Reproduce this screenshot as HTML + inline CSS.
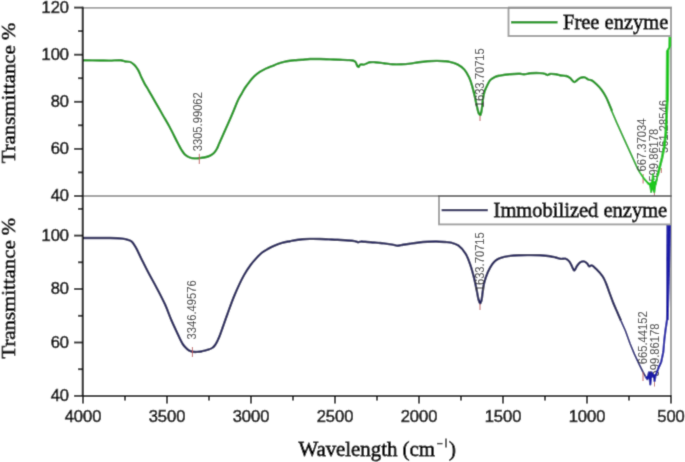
<!DOCTYPE html>
<html><head><meta charset="utf-8"><style>
html,body{margin:0;padding:0;background:#fff;width:685px;height:462px;overflow:hidden}
svg{display:block}
.tl{font-family:"Liberation Sans",sans-serif;font-size:16.5px;fill:#111;stroke:#111;stroke-width:0.6px}
.pk{font-family:"Liberation Sans",sans-serif;font-size:12.3px;fill:#3a3a3a;stroke:#3a3a3a;stroke-width:0.1px}
.lg{font-family:"Liberation Serif",serif;font-size:20.5px;fill:#000;stroke:#000;stroke-width:0.8px}
.ti{font-family:"Liberation Serif",serif;font-size:20.8px;fill:#000;stroke:#000;stroke-width:0.8px}
</style></head><body>
<svg width="685" height="462" viewBox="0 0 685 462">
<defs><filter id="bl" x="0" y="0" width="685" height="462" filterUnits="userSpaceOnUse"><feConvolveMatrix order="3" kernelMatrix="0.0367 0.1915 0.0367 0.1915 1 0.1915 0.0367 0.1915 0.0367" divisor="1.9127" edgeMode="none"/></filter></defs>
<g filter="url(#bl)"><rect width="685" height="462" fill="#fff"/>
<line x1="83" y1="7.85" x2="671" y2="7.85" stroke="#a0a0a0" stroke-width="1.9"/>
<line x1="671" y1="7.5" x2="671" y2="396" stroke="#a0a0a0" stroke-width="1.9"/>
<line x1="83" y1="196" x2="671" y2="196" stroke="#a0a0a0" stroke-width="1.9"/>
<path d="M83.00,60.30 C83.00,60.30 95.08,60.45 100.00,60.50 C103.77,60.54 106.60,60.63 110.00,60.60 C113.53,60.57 118.01,59.97 120.80,60.30 C122.61,60.52 123.66,61.22 125.20,61.50 C126.85,61.80 128.86,61.41 130.40,62.00 C131.88,62.57 133.08,63.69 134.30,64.90 C135.71,66.30 137.06,68.15 138.20,70.10 C139.46,72.24 140.29,74.98 141.40,77.30 C142.46,79.54 143.51,81.65 144.70,83.80 C145.91,85.99 147.22,87.94 148.60,90.30 C150.22,93.07 152.06,96.38 153.80,99.40 C155.53,102.41 157.39,105.57 159.00,108.40 C160.43,110.90 161.50,112.86 163.00,115.50 C164.90,118.83 167.24,122.63 169.50,126.80 C172.20,131.79 175.76,139.26 178.00,143.50 C179.40,146.15 180.26,147.97 181.50,149.90 C182.61,151.63 183.61,153.32 185.00,154.60 C186.35,155.84 188.07,156.87 189.70,157.50 C191.21,158.09 192.79,158.30 194.40,158.40 C196.06,158.51 197.86,158.26 199.50,158.10 C201.05,157.95 202.55,157.78 204.00,157.50 C205.38,157.24 206.69,156.98 208.00,156.50 C209.36,156.00 210.81,155.32 212.00,154.50 C213.14,153.71 214.13,152.74 215.00,151.70 C215.86,150.67 216.57,149.50 217.20,148.30 C217.84,147.07 218.21,145.77 218.80,144.40 C219.46,142.85 220.15,141.40 221.00,139.50 C222.18,136.85 223.95,132.80 225.20,130.00 C226.19,127.77 226.86,126.35 227.90,124.00 C229.36,120.69 231.40,116.01 233.10,112.00 C234.80,108.01 236.49,103.31 238.10,100.00 C239.30,97.55 240.45,95.83 241.60,93.80 C242.71,91.83 243.65,89.92 244.90,88.00 C246.23,85.95 247.82,83.87 249.40,81.90 C250.98,79.93 252.60,77.90 254.40,76.20 C256.14,74.55 258.05,73.09 260.00,71.80 C261.92,70.53 263.97,69.46 266.00,68.50 C267.97,67.57 270.00,66.90 272.00,66.10 C274.00,65.30 275.98,64.40 278.00,63.70 C279.98,63.01 281.99,62.39 284.00,61.90 C285.99,61.42 287.99,61.08 290.00,60.80 C291.99,60.52 294.00,60.38 296.00,60.20 C298.00,60.02 299.86,59.88 302.00,59.70 C304.48,59.49 307.18,59.12 310.00,59.00 C313.14,58.86 316.67,58.93 320.00,59.00 C323.33,59.07 326.67,59.27 330.00,59.40 C333.33,59.53 336.89,59.68 340.00,59.80 C342.71,59.91 345.31,59.97 347.60,60.10 C349.50,60.21 351.39,60.07 352.80,60.50 C353.89,60.83 354.75,61.20 355.50,62.00 C356.45,63.02 356.89,65.83 357.60,66.50 C357.93,66.81 358.26,67.00 358.60,66.90 C359.16,66.74 359.49,64.90 360.30,64.50 C361.18,64.06 362.51,64.82 363.80,64.60 C365.54,64.30 367.75,62.69 369.70,62.30 C371.48,61.95 373.01,62.11 375.00,62.20 C377.57,62.32 380.88,62.85 383.80,63.20 C386.71,63.55 389.59,64.12 392.50,64.30 C395.42,64.48 398.38,64.42 401.30,64.30 C404.21,64.18 407.10,63.95 410.00,63.60 C412.93,63.25 415.87,62.58 418.80,62.20 C421.70,61.82 424.59,61.52 427.50,61.30 C430.42,61.08 433.37,60.92 436.30,60.90 C439.21,60.88 442.55,61.00 445.00,61.20 C446.81,61.35 447.94,61.39 449.70,61.80 C452.08,62.35 455.43,63.28 457.90,64.60 C460.28,65.87 462.47,67.45 464.30,69.50 C466.29,71.72 467.85,74.70 469.20,77.60 C470.61,80.62 471.55,84.04 472.50,87.30 C473.45,90.54 474.15,93.84 474.90,97.10 C475.65,100.34 476.26,103.84 477.00,106.80 C477.64,109.33 478.16,112.49 479.00,113.80 C479.42,114.46 480.00,115.13 480.40,115.00 C481.16,114.75 481.49,110.82 481.90,108.40 C482.39,105.49 482.50,101.69 483.00,98.70 C483.43,96.08 483.87,93.65 484.60,91.40 C485.27,89.35 486.16,87.58 487.10,85.70 C488.06,83.78 488.89,81.50 490.30,80.00 C491.63,78.58 493.51,77.54 495.20,76.80 C496.75,76.12 498.10,75.97 500.00,75.60 C502.72,75.07 506.66,74.50 510.00,74.20 C513.33,73.90 517.33,73.71 520.00,73.80 C521.80,73.86 522.93,74.35 524.50,74.30 C526.25,74.24 527.88,73.51 530.00,73.30 C532.83,73.02 537.24,72.94 540.00,73.10 C541.96,73.22 543.65,73.37 545.00,73.80 C546.01,74.12 546.66,75.07 547.50,75.10 C548.33,75.13 548.97,74.19 550.00,74.00 C551.51,73.72 553.93,74.04 555.80,74.30 C557.59,74.55 559.25,75.22 561.00,75.50 C562.75,75.78 564.75,75.55 566.30,76.00 C567.63,76.39 568.63,76.96 569.80,77.80 C571.26,78.85 572.88,81.97 574.20,82.10 C575.14,82.19 575.88,81.04 576.80,80.40 C577.89,79.64 578.99,78.30 580.30,77.80 C581.62,77.30 583.36,77.09 584.70,77.40 C585.99,77.69 587.00,79.00 588.20,79.50 C589.33,79.97 590.53,79.82 591.70,80.40 C593.16,81.13 594.62,82.53 596.10,83.90 C597.82,85.49 599.70,87.41 601.30,89.50 C603.02,91.75 604.63,94.41 606.00,97.00 C607.36,99.58 608.44,102.52 609.50,105.00 C610.41,107.14 612.00,111.00 612.00,111.00" fill="none" stroke="#229a22" stroke-width="2.4" stroke-linejoin="round"/>
<polyline points="611.5,110.5 616.7,122.7 623.8,138.3 631.0,154.2 637.7,168.8 640.0,172.8" fill="none" stroke="#2aaa2a" stroke-width="1.9" stroke-linejoin="round"/>
<path d="M83.00,238.00 C83.00,238.00 97.40,237.89 104.20,238.00 C110.50,238.10 117.45,237.78 122.40,238.60 C125.94,239.18 129.06,239.73 131.30,241.30 C133.25,242.66 134.10,244.63 135.50,246.90 C137.37,249.94 139.12,254.23 141.10,258.20 C143.32,262.64 145.69,267.52 148.20,272.30 C150.84,277.34 153.84,282.42 156.60,287.70 C159.47,293.18 162.59,299.05 165.10,304.60 C167.45,309.80 169.24,315.21 171.30,320.00 C173.14,324.27 174.91,328.01 176.80,332.00 C178.71,336.01 180.82,341.10 182.70,344.00 C183.90,345.85 185.15,347.10 186.20,348.20 C186.96,348.99 187.56,349.59 188.30,350.10 C188.99,350.57 189.75,350.91 190.50,351.20 C191.22,351.48 191.84,351.67 192.70,351.80 C193.89,351.97 195.57,351.95 197.00,351.90 C198.43,351.85 199.98,351.73 201.30,351.50 C202.45,351.30 203.39,350.99 204.50,350.70 C205.71,350.39 207.01,350.17 208.30,349.70 C209.74,349.17 211.50,348.50 212.70,347.60 C213.78,346.79 214.54,345.76 215.30,344.70 C216.08,343.63 216.65,342.48 217.30,341.20 C218.05,339.72 218.72,338.23 219.50,336.30 C220.58,333.61 221.79,329.90 223.00,326.50 C224.31,322.82 225.51,319.35 227.10,315.00 C229.21,309.24 231.80,301.61 234.60,295.00 C237.45,288.27 241.06,280.44 244.10,275.00 C246.33,271.01 248.39,267.98 250.60,265.00 C252.53,262.39 254.52,260.14 256.50,258.00 C258.32,256.04 260.03,254.14 262.00,252.60 C263.88,251.13 265.98,250.04 268.00,248.90 C269.98,247.78 271.83,246.77 274.00,245.80 C276.45,244.71 279.30,243.57 282.00,242.80 C284.64,242.05 287.03,241.73 290.00,241.20 C293.70,240.53 298.69,239.57 302.50,239.20 C305.68,238.89 308.37,238.93 311.30,238.90 C314.21,238.87 317.09,238.92 320.00,239.00 C322.93,239.08 325.88,239.27 328.80,239.40 C331.71,239.53 334.71,239.64 337.50,239.80 C340.09,239.95 342.35,240.10 345.00,240.30 C348.00,240.53 352.21,240.63 354.60,241.10 C356.08,241.39 357.01,242.16 358.10,242.20 C359.03,242.24 359.71,241.69 360.70,241.60 C361.97,241.48 363.39,241.69 365.10,241.80 C367.51,241.95 371.15,242.29 373.80,242.50 C376.04,242.68 378.19,242.83 380.00,243.00 C381.42,243.13 382.28,243.21 383.80,243.40 C386.11,243.68 389.96,244.16 392.50,244.60 C394.49,244.94 396.04,245.67 397.80,245.70 C399.54,245.73 401.14,245.11 403.00,244.80 C405.16,244.44 407.53,244.06 410.00,243.70 C412.76,243.29 415.87,242.82 418.80,242.50 C421.70,242.19 424.59,241.97 427.50,241.80 C430.42,241.63 433.38,241.47 436.30,241.50 C439.21,241.53 442.37,241.79 445.00,242.00 C447.19,242.17 448.93,242.09 451.00,242.60 C453.38,243.19 456.12,243.98 458.40,245.60 C461.09,247.51 463.74,250.76 465.70,253.90 C467.74,257.16 468.95,261.05 470.30,264.90 C471.74,268.99 472.91,273.48 474.00,277.80 C475.08,282.08 475.99,286.76 476.80,290.70 C477.49,294.02 477.89,297.57 478.60,299.90 C479.06,301.41 479.60,303.49 480.10,303.50 C480.54,303.51 481.04,301.98 481.40,300.80 C482.00,298.82 482.16,295.34 482.60,292.50 C483.06,289.51 483.31,286.47 484.10,283.30 C484.98,279.76 486.32,275.65 487.80,272.30 C489.13,269.27 490.82,266.16 492.40,264.00 C493.57,262.40 494.68,261.20 496.00,260.20 C497.23,259.27 498.32,258.72 500.00,258.10 C502.54,257.17 506.65,256.38 510.00,255.90 C513.32,255.42 516.66,255.33 520.00,255.20 C523.33,255.07 526.67,255.08 530.00,255.10 C533.33,255.12 536.67,255.12 540.00,255.30 C543.34,255.48 547.13,255.75 550.00,256.20 C552.21,256.55 553.92,257.04 555.80,257.50 C557.59,257.94 559.33,258.72 561.00,258.90 C562.51,259.07 564.07,258.33 565.40,258.70 C566.70,259.06 567.91,259.97 568.90,261.00 C569.99,262.14 570.65,263.86 571.50,265.40 C572.41,267.05 573.28,270.57 574.20,270.60 C575.05,270.63 575.81,267.68 576.80,266.30 C577.83,264.87 578.99,262.99 580.30,262.20 C581.37,261.55 582.67,261.21 583.80,261.40 C585.01,261.61 586.39,262.72 587.30,263.60 C588.10,264.38 588.32,266.04 589.10,266.30 C589.82,266.54 590.77,265.24 591.70,265.40 C593.03,265.63 594.55,267.41 596.10,268.90 C598.19,270.91 601.09,274.11 602.80,276.70 C604.24,278.87 604.99,280.82 606.00,283.20 C607.17,285.95 608.15,289.17 609.30,292.30 C610.54,295.65 611.86,299.36 613.20,302.70 C614.46,305.85 615.80,308.78 617.10,311.80 C618.40,314.81 621.00,320.80 621.00,320.80" fill="none" stroke="#28285e" stroke-width="2.4" stroke-linejoin="round"/>
<polyline points="621.0,320.8 625.5,331.0 630.0,343.5 634.3,353.9 638.7,363.4 643.0,372.0 645.5,376.5" fill="none" stroke="#28287a" stroke-width="1.8" stroke-linejoin="round"/>
<line x1="82.8" y1="6.7" x2="82.8" y2="397" stroke="#222" stroke-width="2.2"/>
<line x1="82" y1="396" x2="672" y2="396" stroke="#222" stroke-width="2.2"/>
<line x1="74" y1="7.6" x2="83" y2="7.6" stroke="#222" stroke-width="1.9"/>
<line x1="74" y1="54.7" x2="83" y2="54.7" stroke="#222" stroke-width="1.9"/>
<line x1="74" y1="101.8" x2="83" y2="101.8" stroke="#222" stroke-width="1.9"/>
<line x1="74" y1="148.9" x2="83" y2="148.9" stroke="#222" stroke-width="1.9"/>
<line x1="74" y1="196.0" x2="83" y2="196.0" stroke="#222" stroke-width="1.9"/>
<line x1="78" y1="31.1" x2="83" y2="31.1" stroke="#222" stroke-width="1.9"/>
<line x1="78" y1="78.2" x2="83" y2="78.2" stroke="#222" stroke-width="1.9"/>
<line x1="78" y1="125.3" x2="83" y2="125.3" stroke="#222" stroke-width="1.9"/>
<line x1="78" y1="172.4" x2="83" y2="172.4" stroke="#222" stroke-width="1.9"/>
<line x1="74" y1="235.6" x2="83" y2="235.6" stroke="#222" stroke-width="1.9"/>
<line x1="74" y1="289.0" x2="83" y2="289.0" stroke="#222" stroke-width="1.9"/>
<line x1="74" y1="342.5" x2="83" y2="342.5" stroke="#222" stroke-width="1.9"/>
<line x1="74" y1="395.9" x2="83" y2="395.9" stroke="#222" stroke-width="1.9"/>
<line x1="78" y1="208.9" x2="83" y2="208.9" stroke="#222" stroke-width="1.9"/>
<line x1="78" y1="262.3" x2="83" y2="262.3" stroke="#222" stroke-width="1.9"/>
<line x1="78" y1="315.8" x2="83" y2="315.8" stroke="#222" stroke-width="1.9"/>
<line x1="78" y1="369.2" x2="83" y2="369.2" stroke="#222" stroke-width="1.9"/>
<line x1="83.0" y1="396" x2="83.0" y2="403.5" stroke="#222" stroke-width="1.9"/>
<line x1="167.0" y1="396" x2="167.0" y2="403.5" stroke="#222" stroke-width="1.9"/>
<line x1="251.0" y1="396" x2="251.0" y2="403.5" stroke="#222" stroke-width="1.9"/>
<line x1="335.0" y1="396" x2="335.0" y2="403.5" stroke="#222" stroke-width="1.9"/>
<line x1="419.0" y1="396" x2="419.0" y2="403.5" stroke="#222" stroke-width="1.9"/>
<line x1="503.0" y1="396" x2="503.0" y2="403.5" stroke="#222" stroke-width="1.9"/>
<line x1="587.0" y1="396" x2="587.0" y2="403.5" stroke="#222" stroke-width="1.9"/>
<line x1="671.0" y1="396" x2="671.0" y2="403.5" stroke="#222" stroke-width="1.9"/>
<line x1="125.0" y1="396" x2="125.0" y2="400.5" stroke="#222" stroke-width="1.9"/>
<line x1="209.0" y1="396" x2="209.0" y2="400.5" stroke="#222" stroke-width="1.9"/>
<line x1="293.0" y1="396" x2="293.0" y2="400.5" stroke="#222" stroke-width="1.9"/>
<line x1="377.0" y1="396" x2="377.0" y2="400.5" stroke="#222" stroke-width="1.9"/>
<line x1="461.0" y1="396" x2="461.0" y2="400.5" stroke="#222" stroke-width="1.9"/>
<line x1="545.0" y1="396" x2="545.0" y2="400.5" stroke="#222" stroke-width="1.9"/>
<line x1="629.0" y1="396" x2="629.0" y2="400.5" stroke="#222" stroke-width="1.9"/>
<line x1="199.3" y1="153.8" x2="199.3" y2="164" stroke="#c06060" stroke-width="1"/>
<text transform="translate(201.7,151.3) rotate(-90) scale(0.91,1)" class="pk">3305.99062</text>
<line x1="480" y1="116" x2="480" y2="121" stroke="#c06060" stroke-width="1"/>
<text transform="translate(483.8,107.3) rotate(-90) scale(0.91,1)" class="pk">1633.70715</text>
<line x1="643.1" y1="174" x2="643.1" y2="183.5" stroke="#c06060" stroke-width="1"/>
<text transform="translate(646.3,171.4) rotate(-90) scale(0.91,1)" class="pk">667.37034</text>
<line x1="654.4" y1="191" x2="654.4" y2="195.2" stroke="#c06060" stroke-width="1"/>
<text transform="translate(657.8,181.6) rotate(-90) scale(0.91,1)" class="pk">599.86178</text>
<line x1="661.3" y1="168" x2="661.3" y2="173" stroke="#c06060" stroke-width="1"/>
<text transform="translate(667.5,153.0) rotate(-90) scale(0.91,1)" class="pk">561.28546</text>
<line x1="192.4" y1="347" x2="192.4" y2="357" stroke="#c06060" stroke-width="1"/>
<text transform="translate(195.5,339.4) rotate(-90) scale(0.91,1)" class="pk">3346.49576</text>
<line x1="480" y1="304" x2="480" y2="310" stroke="#c06060" stroke-width="1"/>
<text transform="translate(483.8,291.3) rotate(-90) scale(0.91,1)" class="pk">1633.70715</text>
<line x1="643" y1="372" x2="643" y2="381" stroke="#c06060" stroke-width="1"/>
<text transform="translate(647.3,364.2) rotate(-90) scale(0.91,1)" class="pk">665.44152</text>
<line x1="654.5" y1="377" x2="654.5" y2="386.5" stroke="#c06060" stroke-width="1"/>
<text transform="translate(658.7,376.4) rotate(-90) scale(0.91,1)" class="pk">599.86178</text>
<polyline points="640.0,172.8 643.5,178.0 647.0,182.0 650.0,184.5 651.2,192.0 652.3,185.0 654.3,192.3 655.5,184.0 657.5,176.0" fill="none" stroke="#22c422" stroke-width="2" stroke-linejoin="round"/>
<polyline points="657.5,176.0 659.5,168.0 662.0,158.0 664.2,147.0 665.8,133.0 666.6,115.0 667.4,97.0" fill="none" stroke="#22c422" stroke-width="2.8" stroke-linejoin="round"/>
<polygon points="646,181 650,183 652,180 655,181 657.5,179 657,184 655.5,186 654.3,192.3 653,187 651.2,192 649.5,186 647,184" fill="#1cc81c"/>
<polyline points="652,184 652.8,173.5 654,180" fill="none" stroke="#1cc81c" stroke-width="1.6"/>
<polygon points="668.5,36 671.2,36 671.2,46 669.4,50 669,99 667.5,104 665.6,99 665.9,51 668.3,47" fill="#1cc81c"/>
<polyline points="645.5,376.5 647.3,379.0 649.0,372.3 650.3,384.5 651.6,372.3 652.9,376.7 653.8,375.0 654.6,381.0 655.5,375.8 656.8,372.3 658.5,368.0 661.2,362.0 663.3,352.0 664.3,340.0 665.5,330.0 667.0,320.0 667.5,290.0 668.0,260.0 668.5,225.0" fill="none" stroke="#1a1aa8" stroke-width="2.2" stroke-linejoin="round"/>
<polygon points="666.4,225 671,225 670.2,260 669.5,290 668.7,320 666.9,321 666.5,290 666.2,260" fill="#1a1aa8"/>
<rect x="508.5" y="7.8" width="162.5" height="28.2" fill="#fff" stroke="#a0a0a0" stroke-width="1.9"/>
<line x1="508" y1="7.85" x2="672" y2="7.85" stroke="#909090" stroke-width="2"/>
<line x1="511" y1="22.2" x2="557.6" y2="22.2" stroke="#229a22" stroke-width="2.4"/>
<text x="563" y="28.6" class="lg">Free enzyme</text>
<rect x="439" y="196" width="232" height="28.4" fill="#fff" stroke="#a0a0a0" stroke-width="1.9"/>
<line x1="438" y1="196.1" x2="672" y2="196.1" stroke="#707070" stroke-width="2"/>
<line x1="441.6" y1="210.1" x2="487.8" y2="210.1" stroke="#28285e" stroke-width="2.4"/>
<text x="493.6" y="217" class="lg">Immobilized enzyme</text>
<text transform="translate(14.6,93) rotate(-90) scale(1,0.88)" text-anchor="middle" class="ti">Transmittance %</text>
<text transform="translate(14.6,288.2) rotate(-90) scale(1,0.88)" text-anchor="middle" class="ti">Transmittance %</text>
<text x="298.5" y="456.2" class="ti">Wavelength (cm</text>
<line x1="437" y1="443.6" x2="442.5" y2="443.6" stroke="#111" stroke-width="1.4"/>
<line x1="446" y1="438.6" x2="446" y2="447.6" stroke="#222" stroke-width="1.5"/>
<text x="449" y="456.2" class="ti">)</text>
<text x="69" y="12.8" text-anchor="end" class="tl">120</text>
<text x="69" y="59.9" text-anchor="end" class="tl">100</text>
<text x="69" y="107.0" text-anchor="end" class="tl">80</text>
<text x="69" y="154.1" text-anchor="end" class="tl">60</text>
<text x="69" y="201.2" text-anchor="end" class="tl">40</text>
<text x="69" y="240.8" text-anchor="end" class="tl">100</text>
<text x="69" y="294.2" text-anchor="end" class="tl">80</text>
<text x="69" y="347.7" text-anchor="end" class="tl">60</text>
<text x="69" y="401.1" text-anchor="end" class="tl">40</text>
<text x="83.0" y="422" text-anchor="middle" class="tl">4000</text>
<text x="167.0" y="422" text-anchor="middle" class="tl">3500</text>
<text x="251.0" y="422" text-anchor="middle" class="tl">3000</text>
<text x="335.0" y="422" text-anchor="middle" class="tl">2500</text>
<text x="419.0" y="422" text-anchor="middle" class="tl">2000</text>
<text x="503.0" y="422" text-anchor="middle" class="tl">1500</text>
<text x="587.0" y="422" text-anchor="middle" class="tl">1000</text>
<text x="671.0" y="422" text-anchor="middle" class="tl">500</text>
</g>
</svg>
</body></html>
